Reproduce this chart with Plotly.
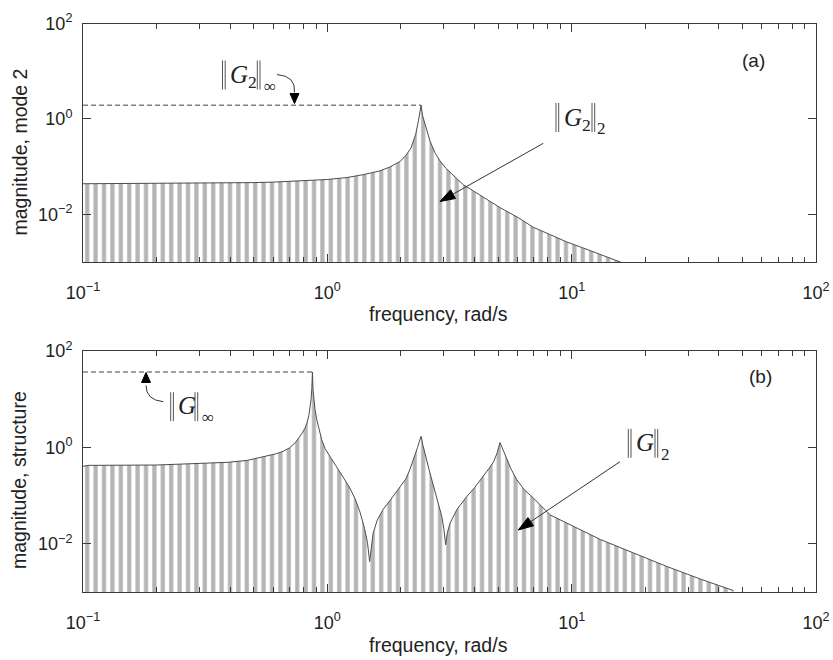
import math
import plotly.graph_objects as go

W, H = 833, 660

# Magnitude of the second-mode transfer function versus frequency (rad/s)
mode2_freq = [0.1, 0.2, 0.3, 0.4, 0.5, 0.6, 0.7, 0.8, 0.9, 1.0, 1.2, 1.4, 1.64, 1.8,
              1.99, 2.1, 2.2, 2.25, 2.3, 2.36, 2.39, 2.42, 2.45, 2.51, 2.63, 2.75,
              2.89, 3.05, 3.28, 3.6, 3.96, 4.5, 5.09, 6.0, 6.95, 8.2, 9.55, 11.2,
              13.1, 14.5, 16]
mode2_mag = [0.0437, 0.0442, 0.0447, 0.0452, 0.0462, 0.0473, 0.0490, 0.0513, 0.0525,
             0.0537, 0.0589, 0.0676, 0.0813, 0.0977, 0.129, 0.174, 0.245, 0.355,
             0.479, 0.912, 1.26, 1.94, 1.20, 0.794, 0.347, 0.200, 0.132, 0.0933,
             0.0646, 0.0417, 0.0309, 0.0209, 0.0138, 0.00871, 0.00537, 0.00372,
             0.00263, 0.00195, 0.00145, 0.00117, 0.000977]

# Magnitude of the full structure transfer function versus frequency (rad/s)
struct_freq = [0.1, 0.105, 0.2, 0.29, 0.39, 0.47, 0.565, 0.62, 0.66, 0.70, 0.74, 0.77,
               0.79, 0.81, 0.825, 0.84, 0.85, 0.858, 0.864, 0.869, 0.874, 0.881, 0.89,
               0.905, 0.925, 0.948, 0.98, 1.026, 1.08, 1.164, 1.23, 1.30, 1.36, 1.42,
               1.46, 1.49, 1.515, 1.54, 1.6, 1.69, 1.8, 1.9, 1.99, 2.1, 2.18, 2.28,
               2.34, 2.38, 2.42, 2.46, 2.52, 2.63, 2.72, 2.80, 2.89, 2.94, 3.0, 3.05,
               3.1, 3.18, 3.39, 3.72, 4.0, 4.35, 4.6, 4.79, 4.95, 5.09, 5.25, 5.42,
               5.65, 5.96, 6.4, 6.97, 8.16, 9.55, 11.2, 13.1, 17.9, 24.5, 33.6, 45.9]
struct_mag = [0.404, 0.424, 0.431, 0.459, 0.490, 0.537, 0.650, 0.741, 0.832, 0.977,
              1.26, 1.62, 2.00, 2.51, 3.20, 4.57, 6.46, 10.0, 16.6, 36.7, 15.8, 9.55,
              6.17, 3.80, 2.29, 1.45, 0.933, 0.646, 0.437, 0.251, 0.151, 0.0851,
              0.0457, 0.0209, 0.0105, 0.00427, 0.00851, 0.0166, 0.0309, 0.0513,
              0.0776, 0.112, 0.158, 0.224, 0.355, 0.646, 1.00, 1.32, 1.70, 1.12,
              0.661, 0.295, 0.158, 0.0955, 0.0501, 0.0372, 0.0200, 0.00955, 0.0170,
              0.0269, 0.0513, 0.0955, 0.145, 0.251, 0.372, 0.501, 0.759, 1.26, 0.851,
              0.562, 0.355, 0.214, 0.132, 0.0891, 0.0398, 0.0269, 0.0182, 0.0123,
              0.00646, 0.00339, 0.00186, 0.00107]

x_tick_vals = [0.1, 1, 10, 100]
x_tick_text = ["10<sup>−1</sup>", "10<sup>0</sup>", "10<sup>1</sup>", "10<sup>2</sup>"]
x_minor_vals = [m * 10.0 ** e for e in (-1, 0, 1) for m in range(2, 10)]
y_tick_vals = [0.01, 1, 100]
y_tick_text = ["10<sup>−2</sup>", "10<sup>0</sup>", "10<sup>2</sup>"]

x_title = "frequency, rad/s"
y_titles = ["magnitude, mode 2", "magnitude, structure"]
panel_tags = ["(a)", "(b)"]

INK = "#222222"
AXIS = "#3a3a3a"
SANS = "Liberation Sans, Arial, sans-serif"
SERIF = "Liberation Serif, Times New Roman, serif"


def fx(x):
    return x / W


def fy(y):
    return 1 - y / H


fig = go.Figure()

# pixel boxes of the two plotting areas: (left, top, right, bottom)
boxes = [(83, 23.5, 816, 262), (83, 351, 816, 592)]
data = [(mode2_freq, mode2_mag), (struct_freq, struct_mag)]

for k, ((x0, y0, x1, y1), (freq, mag)) in enumerate(zip(boxes, data)):
    sfx = "" if k == 0 else str(k + 1)
    xa, ya = "x" + sfx, "y" + sfx
    # floor below the visible range so the hatched area reaches the bottom edge
    fig.add_trace(go.Scatter(x=freq, y=[1e-4] * len(freq), mode="lines",
                             line=dict(width=0), hoverinfo="skip",
                             showlegend=False, xaxis=xa, yaxis=ya))
    fig.add_trace(go.Scatter(x=freq, y=mag, mode="lines",
                             line=dict(color="#4d4d4d", width=1),
                             fill="tonexty",
                             fillpattern=dict(shape="|", size=8.4, solidity=0.5,
                                              fgcolor="#b4b4b4", fgopacity=1,
                                              bgcolor="white", fillmode="replace"),
                             showlegend=False, xaxis=xa, yaxis=ya))
    peak = max(mag)
    ip = mag.index(peak)
    fig.add_trace(go.Scatter(x=[freq[0], freq[ip]], y=[peak, peak], mode="lines",
                             line=dict(color="#444444", width=1, dash="5px,3px"),
                             showlegend=False, xaxis=xa, yaxis=ya))

    xdom = [fx(x0), fx(x1)]
    ydom = [fy(y1), fy(y0)]
    fig.layout["xaxis" + sfx] = dict(
        type="log", range=[-1, 2], domain=xdom, anchor=ya,
        tickmode="array", tickvals=x_tick_vals, ticktext=x_tick_text,
        ticks="inside", ticklen=8, tickcolor=AXIS, tickwidth=1,
        minor=dict(tickmode="array", tickvals=x_minor_vals, ticks="inside",
                   ticklen=5, tickcolor=AXIS, tickwidth=1, showgrid=False),
        showline=True, linecolor=AXIS, linewidth=1, mirror="ticks",
        showgrid=False, zeroline=False, automargin=False,
        ticklabelstandoff=14,
        tickfont=dict(family=SANS, size=18, color=INK))
    fig.layout["yaxis" + sfx] = dict(
        type="log", range=[-3, 2], domain=ydom, anchor=xa,
        tickmode="array", tickvals=y_tick_vals, ticktext=y_tick_text,
        ticks="inside", ticklen=8, tickcolor=AXIS, tickwidth=1,
        showline=True, linecolor=AXIS, linewidth=1, mirror="ticks",
        showgrid=False, zeroline=False, automargin=False,
        ticklabelstandoff=6,
        tickfont=dict(family=SANS, size=18, color=INK))

annotations = []
shapes = []


def text(x, y, s, size, family=SANS, angle=0, anchor="center"):
    annotations.append(dict(x=fx(x), y=fy(y), xref="paper", yref="paper",
                            text=s, showarrow=False, xanchor=anchor,
                            yanchor="middle", textangle=angle,
                            font=dict(family=family, size=size, color=INK)))


def vline(x, ya, yb, color="#555555"):
    shapes.append(dict(type="line", xref="paper", yref="paper",
                       x0=fx(x), y0=fy(ya), x1=fx(x), y1=fy(yb),
                       line=dict(color=color, width=1)))


def norm_label(left, right, yc, symbol, tail, tail_x):
    """Double-bar norm ‖symbol‖_tail with tall delimiters."""
    half = 14.5
    for xb in (left, left + 2.7, right, right + 2.7):
        vline(xb, yc - half, yc + half)
    text(left + 5.5, yc + (1.5 if "<sub>" in symbol else -1), symbol, 25, SERIF,
         anchor="left")
    text(tail_x, yc + 11, tail, 17, SERIF)


def head(tip, frm, length, half):
    dx, dy = tip[0] - frm[0], tip[1] - frm[1]
    n = math.hypot(dx, dy)
    ux, uy = dx / n, dy / n
    bx, by = tip[0] - ux * length, tip[1] - uy * length
    nx, ny = -uy, ux
    pts = [tip, (bx + nx * half, by + ny * half), (bx - nx * half, by - ny * half)]
    path = "M " + " L ".join(f"{fx(p[0]):.5f},{fy(p[1]):.5f}" for p in pts) + " Z"
    shapes.append(dict(type="path", xref="paper", yref="paper", path=path,
                       fillcolor="black", line=dict(color="black", width=1)))
    return bx, by


def straight_arrow(tail, tip, length=15, half=5):
    bx, by = head(tip, tail, length, half)
    shapes.append(dict(type="line", xref="paper", yref="paper",
                       x0=fx(tail[0]), y0=fy(tail[1]), x1=fx(bx), y1=fy(by),
                       line=dict(color="#333333", width=1)))


def curved_arrow(start, ctrl, end, tip, length=10, half=4.5):
    head(tip, end, length, half)
    path = (f"M {fx(start[0]):.5f},{fy(start[1]):.5f} "
            f"Q {fx(ctrl[0]):.5f},{fy(ctrl[1]):.5f} {fx(end[0]):.5f},{fy(end[1]):.5f}")
    shapes.append(dict(type="path", xref="paper", yref="paper", path=path,
                       line=dict(color="#333333", width=1)))


G2 = "<i>G</i><sub>2</sub>"
G1 = "<i>G</i>"

# panel (a)
norm_label(222.5, 257.3, 75, G2, "∞", 269.5)
curved_arrow((277, 74.5), (296, 76), (294.5, 92.5), (294.5, 103.5))
norm_label(556, 592, 117.5, G2, "2", 601.5)
straight_arrow((543.3, 143.3), (440, 201.5))
text(753, 60, panel_tags[0], 19)

# panel (b)
norm_label(170.7, 195, 406.7, G1, "∞", 208)
curved_arrow((163.3, 401.7), (146, 400), (146, 385.5), (146, 372.5))
norm_label(628.3, 655, 443.3, G1, "2", 665.5)
straight_arrow((620, 461.7), (518.3, 530))
text(760, 376, panel_tags[1], 19)

# axis titles
text(439, 314, x_title, 19.5)
text(439, 645, x_title, 19.5)
text(19, 152.5, y_titles[0], 19.5, angle=-90)
text(19, 480, y_titles[1], 19.5, angle=-90)

fig.update_layout(width=W, height=H, margin=dict(l=0, r=0, t=0, b=0),
                  paper_bgcolor="white", plot_bgcolor="white",
                  showlegend=False, annotations=annotations, shapes=shapes)

fig.write_html("out.html")
